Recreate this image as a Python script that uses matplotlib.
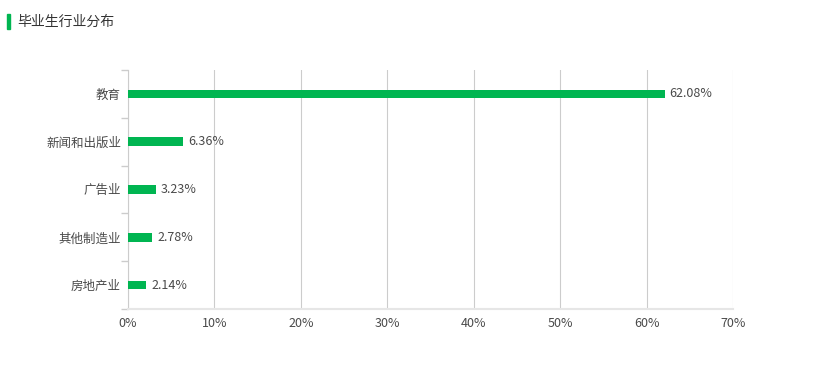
import matplotlib
matplotlib.use("Agg")
import matplotlib.pyplot as plt
import numpy as np

plt.rcParams['font.family'] = ['Noto Sans CJK SC', 'DejaVu Sans']

categories = ["教育", "新闻和出版业", "广告业", "其他制造业", "房地产业"]
values = [62.08, 6.36, 3.23, 2.78, 2.14]
xticks = [0, 10, 20, 30, 40, 50, 60, 70]
title = "毕业生行业分布"

green = "#00b551"
txt = "#4a4a4a"

fig = plt.figure(figsize=(8.14, 3.75), dpi=100)
ax = fig.add_axes([128/814, 1-309/375, (733-128)/814, (309-70)/375])

n = len(categories)
ypos = np.arange(n)[::-1]
ax.barh(ypos, values, height=0.18, color=green, zorder=3)
for y, v in zip(ypos, values):
    ax.text(v + 0.6, y, f"{v:.2f}%", va="center", ha="left", fontsize=9, color=txt)

ax.set_xlim(0, 70)
ax.set_ylim(-0.5, n - 0.5)
ax.set_xticks(xticks)
ax.set_xticklabels([f"{t}%" for t in xticks], fontsize=9, color=txt)
ax.set_yticks(ypos)
ax.set_yticklabels(categories, fontsize=9, color=txt)
ax.tick_params(axis='y', length=0, pad=5)
ax.tick_params(axis='x', length=0, pad=6)
# minor ticks at category boundaries
ax.set_yticks(np.arange(-0.5, n, 1.0), minor=True)
ax.tick_params(axis='y', which='minor', length=5, color="#cccccc", width=1)

ax.grid(axis='x', color="#cccccc", linewidth=0.8, zorder=0)
for s in ["top", "right"]:
    ax.spines[s].set_visible(False)
ax.spines["left"].set_color("#cccccc")
ax.spines["bottom"].set_color("#e6e6e6")
ax.spines["bottom"].set_linewidth(1.5)

fig.patches.append(plt.Rectangle((7/814, 1-29/375), 3/814, 15/375, transform=fig.transFigure, color=green))
fig.text(17/814, 1-22/375, title, fontsize=10, color="#333333", va="center", ha="left")

fig.savefig("out.png", dpi=100)
